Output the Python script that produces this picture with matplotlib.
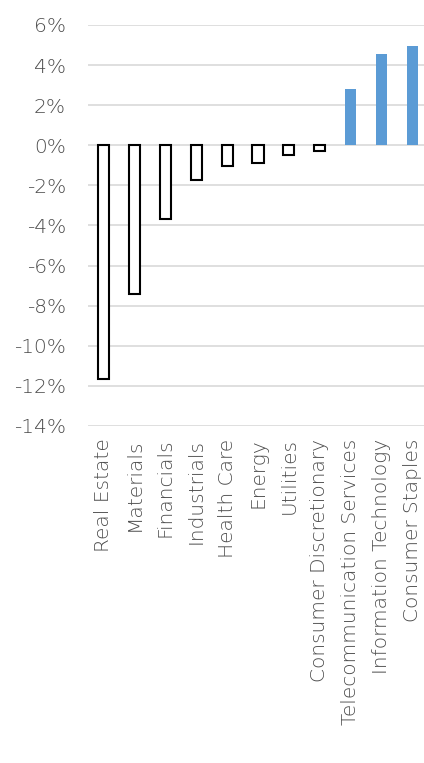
import matplotlib
matplotlib.use("Agg")
import matplotlib.pyplot as plt
from matplotlib.ticker import FuncFormatter

sectors = ["Real Estate", "Materials", "Financials", "Industrials", "Health Care",
           "Energy", "Utilities", "Consumer Discretionary",
           "Telecommunication Services", "Information Technology", "Consumer Staples"]
returns_pct = [-11.67, -7.4, -3.7, -1.75, -1.05, -0.87, -0.47, -0.28, 2.8, 4.55, 4.95]
y_ticks = [6, 4, 2, 0, -2, -4, -6, -8, -10, -12, -14]

plt.rcParams["font.family"] = ["DejaVu Sans"]

fig = plt.figure(figsize=(4.24, 7.63), dpi=100)
ax = fig.add_axes([88 / 424, 1 - 426 / 763, 340 / 424, 401 / 763])

x = range(len(sectors))
for i, v in zip(x, returns_pct):
    if v < 0:
        ax.bar(i, v, width=0.36, facecolor="white", edgecolor="black", linewidth=1.5, zorder=3)
    else:
        ax.bar(i, v, width=0.36, facecolor="#5B9BD5", edgecolor="none", zorder=3)

ax.set_xlim(-0.5, len(sectors) - 0.5)
ax.set_ylim(-14, 6)
ax.set_yticks(y_ticks)
ax.yaxis.set_major_formatter(FuncFormatter(lambda v, _: f"{v:.0f}%"))
ax.grid(axis="y", color="#D9D9D9", linewidth=1.2, zorder=0)
ax.set_axisbelow(True)

ax.set_xticks(list(x))
ax.set_xticklabels(sectors, rotation=90, ha="center", va="top")
for s in ax.spines.values():
    s.set_visible(False)
ax.tick_params(axis="both", length=0, labelsize=14.5, colors="#4D4D4D")
ax.tick_params(axis="y", pad=16)
ax.tick_params(axis="x", pad=9)
for lbl in ax.get_xticklabels() + ax.get_yticklabels():
    lbl.set_fontweight("light")

fig.savefig("out.png", dpi=100)
